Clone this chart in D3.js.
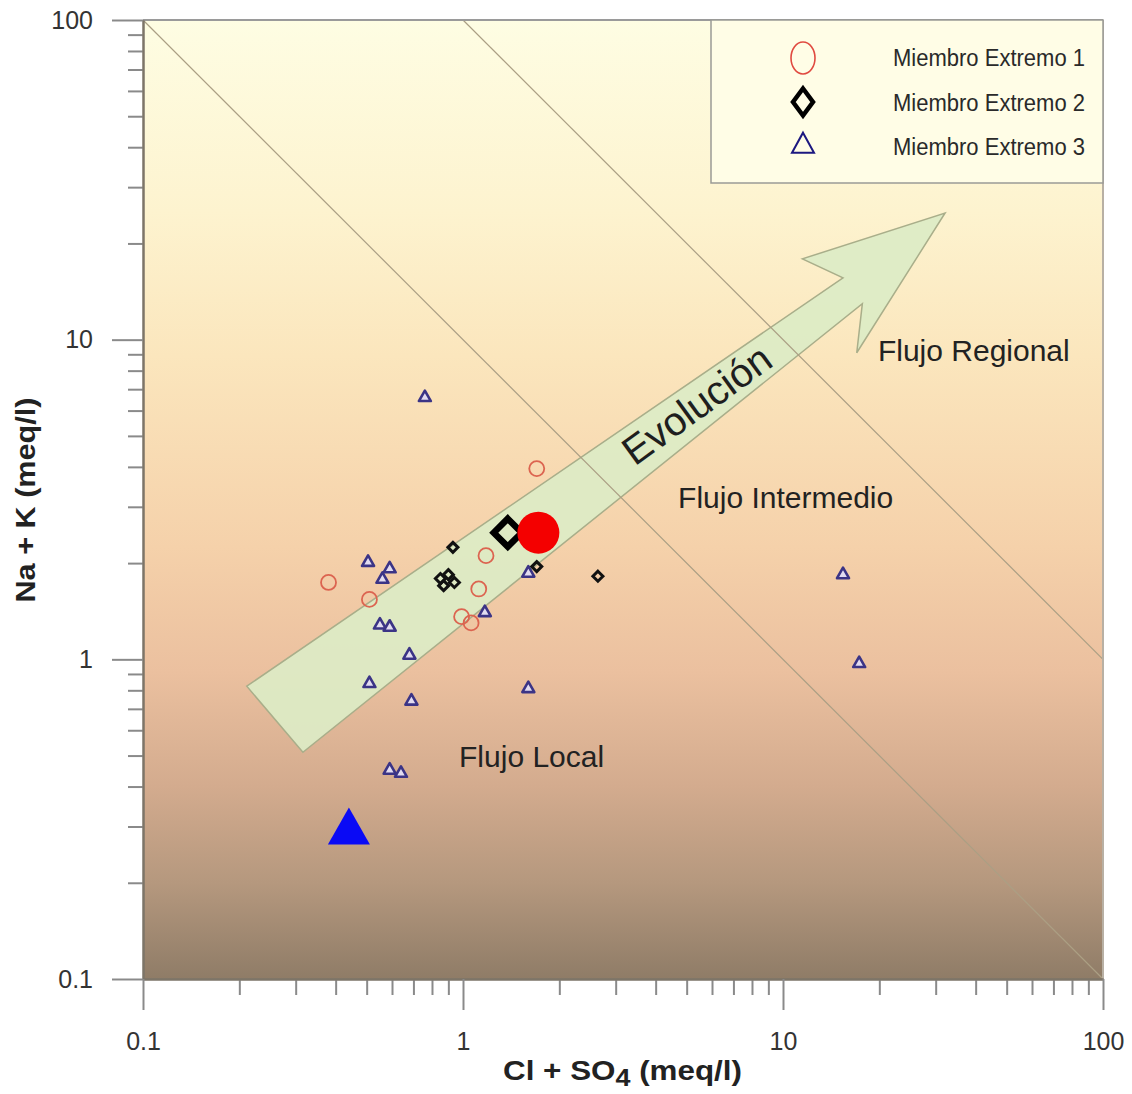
<!DOCTYPE html>
<html>
<head>
<meta charset="utf-8">
<script src="https://cdn.jsdelivr.net/npm/d3@7/dist/d3.min.js"></script>
<style>
  body { margin: 0; background: #fff; }
  text { font-family: "Liberation Sans", Arial, sans-serif; }
</style>
</head>
<body>
<svg id="chart" width="1132" height="1094"></svg>
<script>
// Miembro Extremo 1 (open red circles)
var me1X = [0.38, 0.51, 1.70, 1.18, 1.12, 0.99, 1.06];
var me1Y = [1.74, 1.54, 3.95, 2.11, 1.66, 1.36, 1.30];
var me1End = [1.72, 2.49];

// Miembro Extremo 2 (black diamonds)
var me2X = [0.93, 0.85, 0.90, 0.94, 0.87, 1.70, 2.64];
var me2Y = [2.24, 1.79, 1.84, 1.74, 1.70, 1.95, 1.82];
var me2End = [1.38, 2.49];

// Miembro Extremo 3 (blue triangles)
var me3X = [0.76, 0.505, 0.59, 0.56, 0.55, 0.59, 0.68, 0.51, 0.69, 0.59, 0.64, 1.60, 1.17, 1.60, 15.4, 17.3];
var me3Y = [6.59, 2.01, 1.92, 1.78, 1.28, 1.26, 1.03, 0.84, 0.74, 0.45, 0.44, 0.81, 1.40, 1.86, 1.84, 0.97];
var me3End = [0.44, 0.288];

// flow boundaries (Cl+SO4) * (Na+K) = const
var boundaries = [10, 100];

// evolution arrow outline, in data units
var arrowX = [0.211, 15.4, 11.5, 32.1, 17.0, 17.7, 0.316];
var arrowY = [0.824, 15.6, 17.9, 24.9, 9.1, 12.96, 0.512];

var zoneNames = ["Flujo Local", "Flujo Intermedio", "Flujo Regional"];
var zoneX = [0.972, 4.70, 19.8];
var zoneY = [0.46, 2.985, 8.59];

var majorTicks = [0.1, 1, 10, 100];
var tickLabels = ["0.1", "1", "10", "100"];
var legendNames = ["Miembro Extremo 1", "Miembro Extremo 2", "Miembro Extremo 3"];

var svg = d3.select("#chart");

var x = d3.scaleLog().domain([0.1, 100]).range([143, 1103]);
var y = d3.scaleLog().domain([0.1, 100]).range([979, 20]);

// background gradient
var defs = svg.append("defs");
var grad = defs.append("linearGradient").attr("id", "bg")
    .attr("x1", 0).attr("y1", 0).attr("x2", 0).attr("y2", 1);
[[0, "#fefde3"], [0.2, "#fdf3cf"], [0.35, "#fbe6bd"], [0.55, "#f5d1aa"],
 [0.68, "#ebc09f"], [0.8, "#d3ab8e"], [0.9, "#b5987e"], [1, "#8f7c67"]]
  .forEach(function (s) {
    grad.append("stop").attr("offset", s[0]).attr("stop-color", s[1]);
  });

svg.append("rect")
    .attr("x", x(0.1)).attr("y", y(100))
    .attr("width", x(100) - x(0.1)).attr("height", y(0.1) - y(100))
    .attr("fill", "url(#bg)");

// arrow
svg.append("polygon")
    .attr("points", arrowX.map(function (v, i) { return x(v) + "," + y(arrowY[i]); }).join(" "))
    .attr("fill", "#dcebc6")
    .attr("fill-opacity", 0.92)
    .attr("stroke", "#a9ae8a")
    .attr("stroke-width", 1.5);

// boundaries
svg.append("g").selectAll("line")
  .data(boundaries)
  .enter().append("line")
    .attr("x1", function (k) { return x(Math.max(0.1, k / 100)); })
    .attr("y1", function (k) { return y(k / Math.max(0.1, k / 100)); })
    .attr("x2", function (k) { return x(Math.min(100, k / 0.1)); })
    .attr("y2", function (k) { return y(k / Math.min(100, k / 0.1)); })
    .attr("stroke", "#ab9f84")
    .attr("stroke-width", 1.2);

// frame top / right
svg.append("line").attr("x1", x(0.1)).attr("x2", x(100)).attr("y1", y(100)).attr("y2", y(100))
    .attr("stroke", "#9a9a9a").attr("stroke-width", 2);
svg.append("line").attr("x1", x(100)).attr("x2", x(100)).attr("y1", y(100)).attr("y2", y(0.1))
    .attr("stroke", "#b8b0a4").attr("stroke-width", 2);

// axes
var minor = x.ticks().filter(function (t) { return majorTicks.indexOf(t) < 0; });

function styleAxis(g) {
  g.selectAll("path").attr("stroke", "#888").attr("stroke-width", 2);
  g.selectAll("line").attr("stroke", "#8a8a8a").attr("stroke-width", 2);
  g.selectAll("text").attr("fill", "#333").style("font-size", "25px")
      .style("font-family", "'Liberation Sans', Arial, sans-serif");
}

svg.append("g").attr("transform", "translate(" + x(0.1) + ",0)")
    .call(d3.axisLeft(y).tickValues(minor).tickSize(15).tickSizeOuter(0).tickFormat(""))
    .call(styleAxis);
svg.append("g").attr("transform", "translate(" + x(0.1) + ",0)")
    .call(d3.axisLeft(y).tickValues(majorTicks).tickSize(31).tickSizeOuter(0).tickPadding(19)
          .tickFormat(function (d, i) { return tickLabels[i]; }))
    .call(styleAxis);

svg.append("g").attr("transform", "translate(0," + y(0.1) + ")")
    .call(d3.axisBottom(x).tickValues(minor).tickSize(16).tickSizeOuter(0).tickFormat(""))
    .call(styleAxis);
svg.append("g").attr("transform", "translate(0," + y(0.1) + ")")
    .call(d3.axisBottom(x).tickValues(majorTicks).tickSize(31).tickSizeOuter(0).tickPadding(22)
          .tickFormat(function (d, i) { return tickLabels[i]; }))
    .call(styleAxis);
svg.selectAll("g path.domain").attr("stroke", "#7d7568");

// axis titles
svg.append("text")
    .attr("transform", "translate(35,500) rotate(-90)")
    .attr("text-anchor", "middle")
    .attr("font-weight", "bold").attr("font-size", 28).attr("fill", "#222")
    .attr("textLength", 205).attr("lengthAdjust", "spacingAndGlyphs")
    .text("Na + K (meq/l)");

var xt = svg.append("text")
    .attr("x", 503).attr("y", 1080)
    .attr("font-weight", "bold").attr("font-size", 28).attr("fill", "#222");
xt.append("tspan").text("Cl + SO");
xt.append("tspan").attr("dy", 6).attr("font-size", 24).text("4");
xt.append("tspan").attr("dy", -6).text(" (meq/l)");
xt.attr("textLength", 239).attr("lengthAdjust", "spacingAndGlyphs");

// zone labels
svg.append("g").selectAll("text")
  .data(zoneNames)
  .enter().append("text")
    .attr("x", function (d, i) { return x(zoneX[i]); })
    .attr("y", function (d, i) { return y(zoneY[i]); })
    .attr("font-size", 30).attr("fill", "#222")
    .text(function (d) { return d; });

svg.append("text")
    .attr("transform", "translate(" + x(3.44) + "," + y(4.0) + ") rotate(-36)")
    .attr("font-size", 40).attr("fill", "#1e1e1e")
    .text("Evolución");

// symbols
function tri(w, h) {
  return "M0," + (-2 * h / 3) + "L" + (w / 2) + "," + (h / 3) + "L" + (-w / 2) + "," + (h / 3) + "Z";
}
function diamond(a, b) {
  return "M0," + (-b) + "L" + a + ",0L0," + b + "L" + (-a) + ",0Z";
}

svg.append("g").selectAll("path")
  .data(me3X)
  .enter().append("path")
    .attr("transform", function (d, i) { return "translate(" + x(d) + "," + y(me3Y[i]) + ")"; })
    .attr("d", tri(12, 10.5))
    .attr("fill", "#e2dcf0")
    .attr("stroke", "#3b3486")
    .attr("stroke-width", 2.6)
    .attr("stroke-linejoin", "round");

svg.append("g").selectAll("path")
  .data(me2X)
  .enter().append("path")
    .attr("transform", function (d, i) { return "translate(" + x(d) + "," + y(me2Y[i]) + ")"; })
    .attr("d", diamond(5, 5))
    .attr("fill", "none")
    .attr("stroke", "#111")
    .attr("stroke-width", 3);

svg.append("g").selectAll("circle")
  .data(me1X)
  .enter().append("circle")
    .attr("cx", function (d) { return x(d); })
    .attr("cy", function (d, i) { return y(me1Y[i]); })
    .attr("r", 7.5)
    .attr("fill", "none")
    .attr("stroke", "#dc6450")
    .attr("stroke-width", 1.8);

svg.append("path")
    .attr("transform", "translate(" + x(me2End[0]) + "," + y(me2End[1]) + ")")
    .attr("d", diamond(14, 14))
    .attr("fill", "none").attr("stroke", "#000").attr("stroke-width", 6.5);

svg.append("circle")
    .attr("cx", x(me1End[0])).attr("cy", y(me1End[1])).attr("r", 21)
    .attr("fill", "#f40000");

svg.append("path")
    .attr("transform", "translate(" + x(me3End[0]) + "," + y(me3End[1]) + ")")
    .attr("d", tri(42, 37))
    .attr("fill", "#0a0af5");

// legend
var lg = svg.append("g");
lg.append("rect")
    .attr("x", 711).attr("y", 20).attr("width", 392).attr("height", 163)
    .attr("fill", "#fffde6").attr("stroke", "#9a9a96").attr("stroke-width", 1.5);

lg.append("ellipse").attr("cx", 803).attr("cy", 58).attr("rx", 12).attr("ry", 16)
    .attr("fill", "none").attr("stroke", "#e04a40").attr("stroke-width", 1.6);
lg.append("path").attr("transform", "translate(803,102)").attr("d", diamond(10, 13.5))
    .attr("fill", "none").attr("stroke", "#000").attr("stroke-width", 4.5);
lg.append("path").attr("transform", "translate(803,146)").attr("d", tri(22, 20))
    .attr("fill", "none").attr("stroke", "#1c1880").attr("stroke-width", 2);

lg.selectAll("text.leg")
  .data(legendNames)
  .enter().append("text")
    .attr("class", "leg")
    .attr("x", 893)
    .attr("y", function (d, i) { return 66 + i * 44.5; })
    .attr("font-size", 23).attr("fill", "#2a2a2a")
    .attr("textLength", 192).attr("lengthAdjust", "spacingAndGlyphs")
    .style("font-family", "'Liberation Sans Narrow', 'Arial Narrow', 'Liberation Sans', sans-serif")
    .text(function (d) { return d; });
</script>
</body>
</html>
